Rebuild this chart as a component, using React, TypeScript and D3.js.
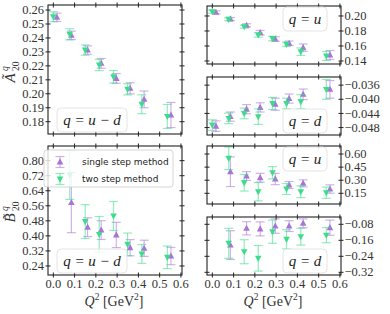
import React from "react";
import * as d3 from "d3";

// Q^2 positions (GeV^2) of the two methods, slightly shifted for visibility
const Q2_SINGLE = [0.017, 0.085, 0.161, 0.225, 0.296, 0.361, 0.427, 0.553];
const Q2_TWO = [0.0, 0.077, 0.15, 0.216, 0.283, 0.349, 0.416, 0.536];

// A20, q = u - d
const A_UMD_SINGLE = [0.2548, 0.2419, 0.2313, 0.2218, 0.211, 0.2039, 0.196, 0.1848];
const A_UMD_SINGLE_ERR = [0.003, 0.003, 0.003, 0.0035, 0.0035, 0.004, 0.006, 0.009];
const A_UMD_TWO = [0.2552, 0.2426, 0.2313, 0.2206, 0.2122, 0.2032, 0.1925, 0.1838];
const A_UMD_TWO_ERR = [0.0036, 0.004, 0.0037, 0.004, 0.0045, 0.004, 0.0068, 0.0086];

// A20, q = u
const A_U_SINGLE = [0.2049, 0.196, 0.1876, 0.1777, 0.1693, 0.1636, 0.1577, 0.148];
const A_U_SINGLE_ERR = [0.002, 0.002, 0.002, 0.003, 0.003, 0.003, 0.005, 0.006];
const A_U_TWO = [0.2057, 0.1956, 0.1857, 0.1747, 0.17, 0.1623, 0.1524, 0.1467];
const A_U_TWO_ERR = [0.002, 0.002, 0.002, 0.003, 0.003, 0.003, 0.005, 0.006];

// A20, q = d
const A_D_SINGLE = [-0.0476, -0.0449, -0.0428, -0.0423, -0.0414, -0.0398, -0.0386, -0.0372];
const A_D_SINGLE_ERR = [0.0015, 0.0013, 0.0013, 0.0013, 0.0017, 0.0013, 0.0015, 0.0025];
const A_D_TWO = [-0.0473, -0.0454, -0.044, -0.0449, -0.0412, -0.0412, -0.0407, -0.0372];
const A_D_TWO_ERR = [0.0015, 0.0015, 0.0015, 0.0022, 0.0017, 0.0015, 0.002, 0.0028];

// B20 (no Q^2 = 0 point), q = u - d
const B_UMD_SINGLE = [0.577, 0.446, 0.431, 0.405, 0.337, 0.334, 0.293];
const B_UMD_SINGLE_ERR = [0.16, 0.05, 0.05, 0.067, 0.043, 0.043, 0.046];
const B_UMD_TWO = [0.724, 0.476, 0.408, 0.506, 0.355, 0.304, 0.286];
const B_UMD_TWO_ERR = [0.13, 0.09, 0.095, 0.077, 0.06, 0.05, 0.06];

// B20, q = u
const B_U_SINGLE = [0.397, 0.348, 0.329, 0.314, 0.245, 0.264, 0.199];
const B_U_SINGLE_ERR = [0.17, 0.05, 0.05, 0.065, 0.04, 0.04, 0.048];
const B_U_TWO = [0.551, 0.271, 0.168, 0.386, 0.199, 0.168, 0.157];
const B_U_TWO_ERR = [0.13, 0.095, 0.105, 0.07, 0.063, 0.067, 0.065];

// B20, q = d
const B_D_SINGLE = [-0.184, -0.1, -0.103, -0.089, -0.089, -0.075, -0.097];
const B_D_SINGLE_ERR = [0.072, 0.033, 0.035, 0.036, 0.027, 0.022, 0.038];
const B_D_TWO = [-0.175, -0.217, -0.25, -0.117, -0.155, -0.142, -0.134];
const B_D_TWO_ERR = [0.075, 0.06, 0.064, 0.058, 0.048, 0.042, 0.038];

const X_TICKS = [0, 0.1, 0.2, 0.3, 0.4, 0.5, 0.6];
const A_UMD_TICKS = [0.18, 0.19, 0.2, 0.21, 0.22, 0.23, 0.24, 0.25, 0.26];
const B_UMD_TICKS = [0.24, 0.32, 0.4, 0.48, 0.56, 0.64, 0.72, 0.8];
const A_U_TICKS = [0.14, 0.16, 0.18, 0.2];
const A_D_TICKS = [-0.048, -0.044, -0.04, -0.036];
const B_U_TICKS = [0.15, 0.3, 0.45, 0.6];
const B_D_TICKS = [-0.32, -0.24, -0.16, -0.08];

const PURPLE = "#a874d8";
const GREEN = "#3ddc8a";
const SERIF = "'Liberation Serif', 'DejaVu Serif', serif";
const SANS = "'DejaVu Sans', sans-serif";

const fmt = (dec) => (v) => d3.format(`.${dec}f`)(v).replace("-", "\u2212");

const panels = [
  { id: "aumd", x0: 48, x1: 182, y0: 5, y1: 134, dom: [0.1712, 0.2636], ticks: A_UMD_TICKS, dec: 2, side: "left", xl: false,
    q2s: Q2_SINGLE, q2t: Q2_TWO, s: A_UMD_SINGLE, se: A_UMD_SINGLE_ERR, t: A_UMD_TWO, te: A_UMD_TWO_ERR, label: "q = u \u2212 d", corner: "bl" },
  { id: "bumd", x0: 48, x1: 182, y0: 146, y1: 275, dom: [0.192, 0.878], ticks: B_UMD_TICKS, dec: 2, side: "left", xl: true,
    q2s: Q2_SINGLE.slice(1), q2t: Q2_TWO.slice(1), s: B_UMD_SINGLE, se: B_UMD_SINGLE_ERR, t: B_UMD_TWO, te: B_UMD_TWO_ERR, label: "q = u \u2212 d", corner: "bl" },
  { id: "au", x0: 207, x1: 341, y0: 6, y1: 64, dom: [0.136, 0.2133], ticks: A_U_TICKS, dec: 2, side: "right", xl: false,
    q2s: Q2_SINGLE, q2t: Q2_TWO, s: A_U_SINGLE, se: A_U_SINGLE_ERR, t: A_U_TWO, te: A_U_TWO_ERR, label: "q = u", corner: "tr" },
  { id: "ad", x0: 207, x1: 341, y0: 77, y1: 135, dom: [-0.0501, -0.0337], ticks: A_D_TICKS, dec: 3, side: "right", xl: false,
    q2s: Q2_SINGLE, q2t: Q2_TWO, s: A_D_SINGLE, se: A_D_SINGLE_ERR, t: A_D_TWO, te: A_D_TWO_ERR, label: "q = d", corner: "br" },
  { id: "bu", x0: 207, x1: 341, y0: 146, y1: 204, dom: [0.0275, 0.692], ticks: B_U_TICKS, dec: 2, side: "right", xl: false,
    q2s: Q2_SINGLE.slice(1), q2t: Q2_TWO.slice(1), s: B_U_SINGLE, se: B_U_SINGLE_ERR, t: B_U_TWO, te: B_U_TWO_ERR, label: "q = u", corner: "tr" },
  { id: "bd", x0: 207, x1: 341, y0: 217, y1: 275, dom: [-0.3335, -0.0435], ticks: B_D_TICKS, dec: 2, side: "right", xl: true,
    q2s: Q2_SINGLE.slice(1), q2t: Q2_TWO.slice(1), s: B_D_SINGLE, se: B_D_SINGLE_ERR, t: B_D_TWO, te: B_D_TWO_ERR, label: "q = d", corner: "br" },
];

const tri = (up, r) =>
  up ? `M0,${-r * 1.1}L${r},${r * 0.75}L${-r},${r * 0.75}Z` : `M0,${r * 1.1}L${r},${-r * 0.75}L${-r},${-r * 0.75}Z`;

const Series = ({ xs, ys, es, x, y, color, up }) => (
  <g>
    {ys.map((v, i) => {
      const cx = x(xs[i]);
      const top = y(v + es[i]);
      const bot = y(v - es[i]);
      return (
        <g key={i}>
          <g stroke={color} strokeOpacity={0.55} strokeWidth={1.2}>
            <line x1={cx} x2={cx} y1={top} y2={bot} />
            <line x1={cx - 4.5} x2={cx + 4.5} y1={top} y2={top} />
            <line x1={cx - 4.5} x2={cx + 4.5} y1={bot} y2={bot} />
          </g>
          <path d={tri(up, 3.3)} transform={`translate(${cx},${y(v)})`} fill={color} />
        </g>
      );
    })}
  </g>
);

const Panel = ({ p }) => {
  const x = d3.scaleLinear().domain([-0.025, 0.605]).range([p.x0, p.x1]);
  const y = d3.scaleLinear().domain(p.dom).range([p.y1, p.y0]);
  const f = fmt(p.dec);
  const bw = p.corner === "bl" ? 70 : 44;
  const bh = 24;
  const bx = p.corner === "bl" ? p.x0 + 9 : p.x1 - 14 - bw;
  const by = p.corner === "tr" ? p.y0 + 1 : p.y1 - 2 - bh;
  return (
    <g>
      <Series xs={p.q2s} ys={p.s} es={p.se} x={x} y={y} color={PURPLE} up={true} />
      <Series xs={p.q2t} ys={p.t} es={p.te} x={x} y={y} color={GREEN} up={false} />
      <rect x={p.x0} y={p.y0} width={p.x1 - p.x0} height={p.y1 - p.y0} fill="none" stroke="#222" strokeWidth={1.1} />
      <g stroke="#222" strokeWidth={1}>
        {X_TICKS.map((t) => (
          <g key={t}>
            <line x1={x(t)} x2={x(t)} y1={p.y1 - 2.5} y2={p.y1 + 2.5} />
            <line x1={x(t)} x2={x(t)} y1={p.y0 - 2.5} y2={p.y0 + 2.5} />
          </g>
        ))}
        {p.ticks.map((t) => (
          <g key={t}>
            <line x1={p.x0 - 2.5} x2={p.x0 + 2.5} y1={y(t)} y2={y(t)} />
            <line x1={p.x1 - 2.5} x2={p.x1 + 2.5} y1={y(t)} y2={y(t)} />
          </g>
        ))}
      </g>
      <g fontFamily={SERIF} fontSize={12.5} fill="#333">
        {p.ticks.map((t) => (
          <text key={t} x={p.side === "left" ? p.x0 - 4 : p.x1 + 3.5} y={y(t)} dy="0.33em"
            textAnchor={p.side === "left" ? "end" : "start"}>{f(t)}</text>
        ))}
        {p.xl && X_TICKS.map((t) => (
          <text key={t} x={x(t)} y={p.y1 + 13} textAnchor="middle">{d3.format(".1f")(t)}</text>
        ))}
      </g>
      <rect x={bx} y={by} width={bw} height={bh} rx={4} fill="white" fillOpacity={0.8} stroke="#ddd" strokeWidth={0.8} />
      <text x={bx + bw / 2} y={by + bh / 2} dy="0.35em" textAnchor="middle" fontFamily={SERIF} fontStyle="italic"
        fontSize={15} fill="#222">{p.label}</text>
    </g>
  );
};

const XLabel = ({ cx }) => (
  <text x={cx} y={306} textAnchor="middle" fontFamily={SERIF} fontSize={14} fill="#333">
    <tspan fontStyle="italic">Q</tspan>
    <tspan fontSize={9.5} dy={-6}>2</tspan>
    <tspan dy={6}> [GeV</tspan>
    <tspan fontSize={9.5} dy={-6}>2</tspan>
    <tspan dy={6}>]</tspan>
  </text>
);

const YLabel = ({ cy, letter }) => (
  <g transform={`translate(15,${cy}) rotate(-90)`} fontFamily={SERIF} fill="#333">
    <text x={-8} y={0} fontSize={15} fontStyle="italic" textAnchor="middle">{letter}</text>
    <text x={-1} y={-7} fontSize={9.5} fontStyle="italic">q</text>
    <text x={-1} y={4} fontSize={9.5}>20</text>
  </g>
);

const Legend = () => {
  const rows = [
    { label: "single step method", color: PURPLE, up: true, yy: 162 },
    { label: "two step method", color: GREEN, up: false, yy: 179 },
  ];
  return (
    <g>
      <rect x={44} y={150} width={129} height={37} rx={3} fill="white" fillOpacity={0.8} stroke="#ccc" strokeWidth={0.8} />
      {rows.map((r) => (
        <g key={r.label}>
          <g stroke={r.color} strokeOpacity={0.55} strokeWidth={1.2}>
            <line x1={60} x2={60} y1={r.yy - 5.5} y2={r.yy + 5.5} />
            <line x1={55.5} x2={64.5} y1={r.yy - 5.5} y2={r.yy - 5.5} />
            <line x1={55.5} x2={64.5} y1={r.yy + 5.5} y2={r.yy + 5.5} />
          </g>
          <path d={tri(r.up, 3.3)} transform={`translate(60,${r.yy})`} fill={r.color} />
          <text x={82} y={r.yy} dy="0.35em" fontFamily={SANS} fontSize={9} fill="#222">{r.label}</text>
        </g>
      ))}
    </g>
  );
};

export default function App() {
  return (
    <svg width={390} height={314} style={{ position: "absolute", left: 0, top: 0, background: "white" }}>
      {panels.map((p) => (
        <Panel key={p.id} p={p} />
      ))}
      <Legend />
      <YLabel cy={70} letter={"\u00C3"} />
      <YLabel cy={210} letter={"B\u0303"} />
      <XLabel cx={114} />
      <XLabel cx={273} />
    </svg>
  );
}
